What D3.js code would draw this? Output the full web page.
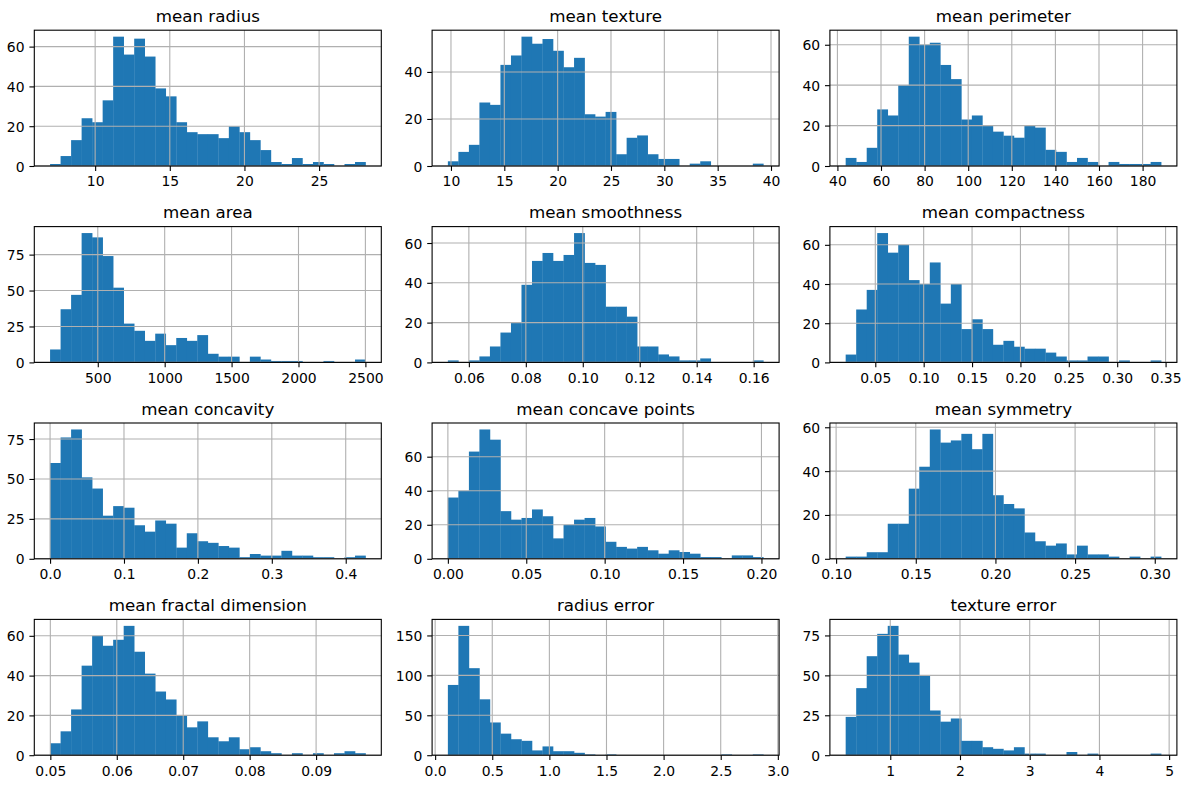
<!DOCTYPE html>
<html>
<head>
<meta charset="utf-8">
<script src="https://cdn.jsdelivr.net/npm/d3@7"></script>
<style>
  body { margin: 0; background: #fff; }
  text { font-family: "DejaVu Sans", sans-serif; fill: #000; }
</style>
</head>
<body>
<svg id="chart" width="1186" height="785"></svg>
<script>
// titles of the 12 histograms (pandas df.hist, 30 bins)
const titles = ["mean radius", "mean texture", "mean perimeter", "mean area",
  "mean smoothness", "mean compactness", "mean concavity", "mean concave points",
  "mean symmetry", "mean fractal dimension", "radius error", "texture error"];

// [min, max] of each column -> 30 equal bins
const binRanges = [[6.981, 28.11], [9.71, 39.28], [43.79, 188.5], [143.5, 2501],
  [0.05263, 0.1634], [0.01938, 0.3454], [0, 0.4268], [0, 0.2012],
  [0.106, 0.304], [0.04996, 0.09744], [0.1115, 2.873], [0.3602, 4.885]];

// bin counts
const meanRadius = [1, 5, 13, 24, 22, 33, 65, 56, 64, 55, 39, 35, 22, 17, 16, 16, 14, 20, 17, 13, 8, 2, 1, 4, 1, 2, 1, 0, 1, 2];
const meanTexture = [2, 6, 9, 27, 26, 43, 47, 55, 52, 54, 49, 42, 46, 22, 21, 23, 5, 12, 13, 5, 3, 3, 0, 1, 2, 0, 0, 0, 0, 1];
const meanPerimeter = [4, 2, 9, 28, 25, 40, 64, 60, 61, 50, 43, 23, 25, 20, 17, 15, 14, 20, 19, 8, 7, 2, 4, 2, 0, 2, 1, 1, 1, 2];
const meanArea = [9, 37, 47, 90, 87, 74, 52, 27, 22, 15, 20, 12, 17, 15, 19, 6, 4, 4, 0, 4, 2, 1, 1, 1, 0, 0, 1, 0, 0, 2];
const meanSmoothness = [1, 0, 1, 3, 8, 15, 20, 39, 51, 55, 51, 54, 65, 50, 49, 28, 28, 23, 8, 8, 4, 3, 1, 1, 2, 0, 0, 0, 0, 1];
const meanCompactness = [4, 27, 37, 66, 56, 60, 42, 40, 51, 30, 40, 17, 22, 17, 9, 11, 8, 7, 7, 5, 3, 1, 1, 3, 3, 0, 1, 0, 0, 1];
const meanConcavity = [60, 76, 81, 51, 44, 27, 33, 32, 21, 17, 24, 22, 7, 16, 11, 10, 8, 7, 1, 3, 2, 2, 5, 2, 2, 1, 1, 0, 1, 2];
const meanConcavePoints = [36, 40, 63, 76, 70, 28, 23, 24, 29, 25, 12, 20, 23, 24, 19, 10, 7, 6, 7, 5, 3, 5, 4, 3, 1, 1, 0, 2, 2, 1];
const meanSymmetry = [1, 1, 3, 3, 16, 16, 32, 42, 59, 53, 54, 57, 50, 57, 29, 25, 23, 12, 8, 6, 7, 2, 6, 2, 2, 1, 0, 1, 0, 1];
const meanFractalDimension = [6, 12, 23, 45, 60, 55, 58, 65, 52, 41, 32, 28, 20, 14, 17, 9, 7, 9, 3, 4, 2, 1, 0, 1, 0, 1, 0, 1, 2, 1];
const radiusError = [88, 162, 109, 70, 41, 27, 20, 18, 6, 11, 5, 5, 3, 1, 0, 1, 0, 0, 0, 0, 0, 0, 0, 0, 0, 0, 1, 0, 0, 1];
const textureError = [24, 42, 62, 76, 81, 63, 58, 50, 28, 21, 23, 9, 9, 5, 4, 3, 5, 1, 1, 0, 0, 2, 0, 1, 0, 0, 0, 0, 0, 1];

const allCounts = [meanRadius, meanTexture, meanPerimeter, meanArea, meanSmoothness,
  meanCompactness, meanConcavity, meanConcavePoints, meanSymmetry,
  meanFractalDimension, radiusError, textureError];

// tick labels
const xTickLabels = [
  ["10", "15", "20", "25"],
  ["10", "15", "20", "25", "30", "35", "40"],
  ["40", "60", "80", "100", "120", "140", "160", "180"],
  ["500", "1000", "1500", "2000", "2500"],
  ["0.06", "0.08", "0.10", "0.12", "0.14", "0.16"],
  ["0.05", "0.10", "0.15", "0.20", "0.25", "0.30", "0.35"],
  ["0.0", "0.1", "0.2", "0.3", "0.4"],
  ["0.00", "0.05", "0.10", "0.15", "0.20"],
  ["0.10", "0.15", "0.20", "0.25", "0.30"],
  ["0.05", "0.06", "0.07", "0.08", "0.09"],
  ["0.0", "0.5", "1.0", "1.5", "2.0", "2.5", "3.0"],
  ["1", "2", "3", "4", "5"]
];
const yTickLabels = [
  ["0", "20", "40", "60"], ["0", "20", "40"], ["0", "20", "40", "60"],
  ["0", "25", "50", "75"], ["0", "20", "40", "60"], ["0", "20", "40", "60"],
  ["0", "25", "50", "75"], ["0", "20", "40", "60"], ["0", "20", "40", "60"],
  ["0", "20", "40", "60"], ["0", "50", "100", "150"], ["0", "25", "50", "75"]
];

const nBins = 30;
const svg = d3.select("#chart");
svg.append("rect").attr("width", 1186).attr("height", 785).attr("fill", "#fff");

// grid of axes (tight layout)
const W = 347, H = 135.8;
const colX = [34.3, 432.1, 829.9];
const rowY = [30.2, 226.6, 423.0, 619.4];
const fontSize = 13.9;

titles.forEach((title, i) => {
  const left = colX[i % 3], top = rowY[Math.floor(i / 3)];
  const [lo, hi] = binRanges[i];
  const counts = allCounts[i];
  const step = (hi - lo) / nBins;
  const edges = d3.range(nBins + 1).map(k => lo + k * step);
  const bins = counts.map((c, k) => ({ x0: edges[k], x1: edges[k + 1], n: c }));

  // matplotlib autoscale: 5% margin on x, 5% headroom on y
  const pad = (hi - lo) * 0.05;
  const x = d3.scaleLinear().domain([lo - pad, hi + pad]).range([0, W]);
  const y = d3.scaleLinear().domain([0, d3.max(counts) * 1.05]).range([H, 0]);

  const g = svg.append("g").attr("transform", `translate(${left},${top})`);

  g.append("clipPath").attr("id", "clip" + i)
    .append("rect").attr("width", W).attr("height", H);

  // bars
  g.append("g").attr("clip-path", `url(#clip${i})`)
    .selectAll("rect")
    .data(bins.filter(b => b.n > 0))
    .enter().append("rect")
    .attr("x", d => x(d.x0))
    .attr("width", d => x(d.x1) - x(d.x0) + 0.3)
    .attr("y", d => y(d.n))
    .attr("height", d => H - y(d.n))
    .attr("fill", "#1f77b4");

  const xt = xTickLabels[i].map(s => +s);
  const yt = yTickLabels[i].map(s => +s);

  // grid lines (drawn over the bars like matplotlib)
  const grid = g.append("g").attr("stroke", "#b0b0b0").attr("stroke-width", 1.1);
  grid.selectAll(".gx").data(xt).enter().append("line")
    .attr("x1", d => x(d)).attr("x2", d => x(d)).attr("y1", 0).attr("y2", H);
  grid.selectAll(".gy").data(yt).enter().append("line")
    .attr("x1", 0).attr("x2", W).attr("y1", d => y(d)).attr("y2", d => y(d));

  // axes
  const xAxis = d3.axisBottom(x).tickValues(xt)
    .tickFormat((d, k) => xTickLabels[i][k]).tickSizeInner(4.9).tickSizeOuter(0).tickPadding(4.9);
  const yAxis = d3.axisLeft(y).tickValues(yt)
    .tickFormat((d, k) => yTickLabels[i][k]).tickSizeInner(4.9).tickSizeOuter(0).tickPadding(4.9);

  const gx = g.append("g").attr("transform", `translate(0,${H})`).call(xAxis);
  const gy = g.append("g").call(yAxis);
  [gx, gy].forEach(a => {
    a.select(".domain").remove();
    a.selectAll("line").attr("stroke", "#000").attr("stroke-width", 1.1);
    a.selectAll("text").style("font-size", fontSize + "px").attr("fill", "#000")
      .style("font-family", "'DejaVu Sans', sans-serif");
  });
  gx.selectAll("text").attr("dy", "0.76em");
  gy.selectAll("text").attr("dy", "0.36em");

  // frame
  g.append("rect").attr("width", W).attr("height", H)
    .attr("fill", "none").attr("stroke", "#000").attr("stroke-width", 1.1);

  // title
  g.append("text")
    .attr("x", W / 2).attr("y", -8.3)
    .attr("text-anchor", "middle")
    .style("font-size", "16.7px")
    .text(title);
});
</script>
</body>
</html>
